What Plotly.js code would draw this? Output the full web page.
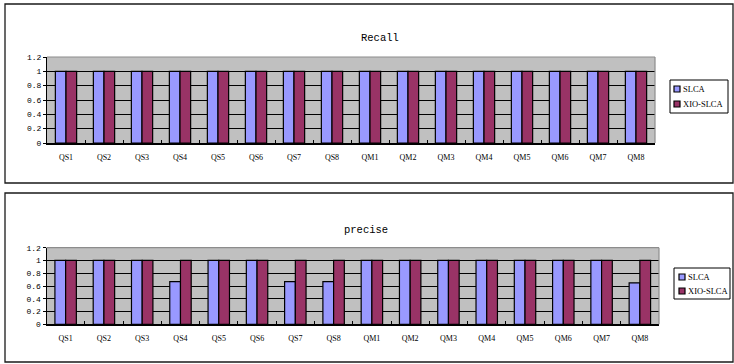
<!DOCTYPE html>
<html>
<head>
<meta charset="utf-8">
<script src="https://cdn.plot.ly/plotly-3.0.1.min.js"></script>
<style>
  html, body { margin: 0; padding: 0; background: #ffffff; }
  #chart { width: 734px; height: 364px; }
</style>
</head>
<body>
<div id="chart"></div>
<script>
// Query categories shared by both panels
const categories = ['QS1','QS2','QS3','QS4','QS5','QS6','QS7','QS8',
                    'QM1','QM2','QM3','QM4','QM5','QM6','QM7','QM8'];

// Series names and colours
const seriesNames = ['SLCA', 'XIO-SLCA'];
const seriesColors = ['#9999ff', '#993366'];

// Recall values
const recallSLCA = [1, 1, 1, 1, 1, 1, 1, 1, 1, 1, 1, 1, 1, 1, 1, 1];
const recallXIO  = [1, 1, 1, 1, 1, 1, 1, 1, 1, 1, 1, 1, 1, 1, 1, 1];

// Precision values
const preciseSLCA = [1, 1, 1, 0.667, 1, 1, 0.667, 0.667, 1, 1, 1, 1, 1, 1, 1, 0.65];
const preciseXIO  = [1, 1, 1, 1, 1, 1, 1, 1, 1, 1, 1, 1, 1, 1, 1, 1];

// Y-axis ticks
const yTickVals = [0, 0.2, 0.4, 0.6, 0.8, 1, 1.2];
const yTickText = ['0', '0.2', '0.4', '0.6', '0.8', '1', '1.2'];

const panelTitles = ['Recall', 'precise'];

const W = 734, H = 364;
const px = v => v / W;
const py = v => 1 - v / H;

const MONO = '"Liberation Mono", "Courier New", monospace';
const SERIF = '"Liberation Serif", "Times New Roman", serif';

function barTrace(y, i, xa, ya) {
  return {
    type: 'bar', x: categories, y: y, name: seriesNames[i],
    xaxis: xa, yaxis: ya, showlegend: false,
    marker: { color: seriesColors[i], line: { color: '#000000', width: 1.2 } },
    hoverinfo: 'x+y+name'
  };
}

const data = [
  barTrace(recallSLCA, 0, 'x', 'y'),
  barTrace(recallXIO, 1, 'x', 'y'),
  barTrace(preciseSLCA, 0, 'x2', 'y2'),
  barTrace(preciseXIO, 1, 'x2', 'y2')
];

function xAxis(domain, anchor) {
  return {
    domain: domain, anchor: anchor, type: 'category',
    showline: true, linecolor: '#000000', linewidth: 1.5,
    ticks: 'inside', tickson: 'boundaries', ticklen: 3, tickcolor: '#000000', tickwidth: 1,
    ticklabelstandoff: 6,
    showgrid: false, zeroline: false,
    tickfont: { family: SERIF, size: 8, color: '#000000' },
    fixedrange: true
  };
}
function yAxis(domain, anchor) {
  return {
    domain: domain, anchor: anchor, range: [0, 1.2],
    tickmode: 'array', tickvals: yTickVals, ticktext: yTickText,
    showline: true, linecolor: '#000000', linewidth: 1,
    ticks: 'outside', ticklen: 3, tickcolor: '#000000', tickwidth: 1,
    showgrid: true, gridcolor: '#000000', gridwidth: 1,
    zeroline: false,
    tickfont: { family: MONO, size: 8, color: '#000000' },
    fixedrange: true
  };
}

const shapes = [];
const annotations = [];

// Outer frames around each panel
[[5, 4, 733, 183], [5, 193, 733, 362]].forEach(b => {
  shapes.push({
    type: 'rect', xref: 'paper', yref: 'paper',
    x0: px(b[0]), x1: px(b[2]), y0: py(b[1]), y1: py(b[3]),
    line: { color: '#1a1a1a', width: 1.3 }, fillcolor: 'rgba(0,0,0,0)', layer: 'below'
  });
});

// Grey top and right edges of each plot area
[['x', 'y'], ['x2', 'y2']].forEach(r => {
  const xr = r[0] + ' domain', yr = r[1] + ' domain';
  shapes.push({ type: 'line', xref: xr, yref: yr, x0: 0, x1: 1, y0: 1, y1: 1,
    line: { color: '#8c8c8c', width: 1.2 }, layer: 'above' });
  shapes.push({ type: 'line', xref: xr, yref: yr, x0: 1, x1: 1, y0: 0, y1: 1,
    line: { color: '#8c8c8c', width: 1.2 }, layer: 'above' });
});

// Panel titles
[[380, 38], [366, 230]].forEach((p, i) => {
  annotations.push({
    xref: 'paper', yref: 'paper', x: px(p[0]), y: py(p[1]),
    xanchor: 'center', yanchor: 'middle', showarrow: false,
    text: panelTitles[i], font: { family: MONO, size: 10.5, color: '#000000' }
  });
});

// Legends: box, swatches and labels
[{ box: [670, 80, 728, 113], sx: 674, rows: [89, 104] },
 { box: [674, 268, 730, 299], sx: 679, rows: [277, 291] }].forEach(L => {
  shapes.push({
    type: 'rect', xref: 'paper', yref: 'paper',
    x0: px(L.box[0]), x1: px(L.box[2]), y0: py(L.box[1]), y1: py(L.box[3]),
    line: { color: '#000000', width: 1 }, fillcolor: '#ffffff'
  });
  seriesNames.forEach((name, i) => {
    const cy = L.rows[i];
    shapes.push({
      type: 'rect', xref: 'paper', yref: 'paper',
      x0: px(L.sx), x1: px(L.sx + 6), y0: py(cy - 3), y1: py(cy + 3),
      line: { color: '#000000', width: 1.2 }, fillcolor: seriesColors[i]
    });
    annotations.push({
      xref: 'paper', yref: 'paper', x: px(L.sx + 7), y: py(cy),
      xanchor: 'left', yanchor: 'middle', showarrow: false,
      text: name, font: { family: SERIF, size: 8.5, color: '#000000' }
    });
  });
});

const layout = {
  width: W, height: H,
  margin: { l: 0, r: 0, t: 0, b: 0 },
  paper_bgcolor: '#ffffff',
  plot_bgcolor: '#c0c0c0',
  barmode: 'group', bargap: 0.44, bargroupgap: 0,
  showlegend: false,
  xaxis:  xAxis([px(47), px(655)], 'y'),
  yaxis:  yAxis([py(143), py(57)], 'x'),
  xaxis2: xAxis([px(46.5), px(659)], 'y2'),
  yaxis2: yAxis([py(324.3), py(247.7)], 'x2'),
  shapes: shapes,
  annotations: annotations
};

Plotly.newPlot('chart', data, layout, { displayModeBar: false, staticPlot: true });
</script>
</body>
</html>
